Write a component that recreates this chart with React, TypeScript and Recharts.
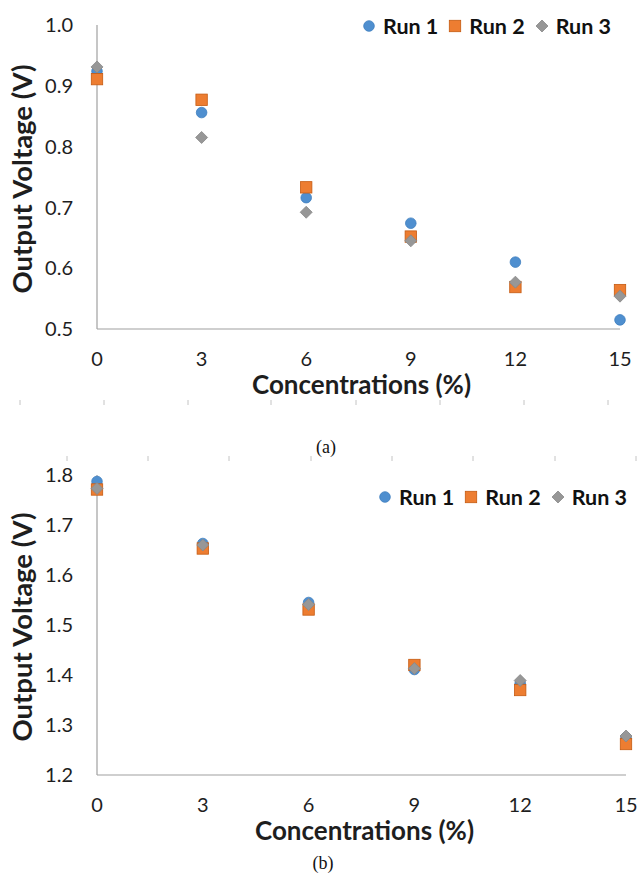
import React from 'react';
import { ScatterChart, Scatter, XAxis, YAxis, Legend } from 'recharts';

// ---------- data ----------
const concentrations = [0, 3, 6, 9, 12, 15];
const seriesNames = ['Run 1', 'Run 2', 'Run 3'];

// panel (a)
const run1A = [0.924, 0.856, 0.716, 0.674, 0.61, 0.515];
const run2A = [0.911, 0.877, 0.733, 0.652, 0.569, 0.564];
const run3A = [0.931, 0.815, 0.692, 0.645, 0.577, 0.554];
const voltTicksA = [0.5, 0.6, 0.7, 0.8, 0.9, 1.0];

// panel (b)
const run1B = [1.787, 1.663, 1.545, 1.411, 1.383, 1.275];
const run2B = [1.771, 1.653, 1.531, 1.42, 1.37, 1.262];
const run3B = [1.773, 1.66, 1.541, 1.413, 1.389, 1.278];
const voltTicksB = [1.2, 1.3, 1.4, 1.5, 1.6, 1.7, 1.8];

const concTicks = [0, 3, 6, 9, 12, 15];

// ---------- styles ----------
const FONT = 'Lato, "Open Sans", sans-serif';
const AXIS_COLOR = '#a0a0a0';
const TEXT_COLOR = '#1e1e1e';

const BLUE = '#4f8fcf';
const BLUE_EDGE = '#3f7fbf';
const ORANGE = '#ed7d31';
const ORANGE_EDGE = '#c55a11';
const GRAY = '#979797';
const GRAY_EDGE = '#888888';

const toPoints = (ys: number[]) => concentrations.map((x, i) => ({ x, y: ys[i] }));

const CircleMark = (p: any) => (
  <circle cx={p.cx} cy={p.cy} r={5.3} fill={BLUE} stroke={BLUE_EDGE} strokeWidth={0.8} />
);
const SquareMark = (p: any) => (
  <rect x={p.cx - 5.7} y={p.cy - 5.7} width={11.4} height={11.4} fill={ORANGE} stroke={ORANGE_EDGE} strokeWidth={0.8} />
);
const DiamondMark = (p: any) => (
  <path
    d={`M${p.cx},${p.cy - 6} L${p.cx + 6},${p.cy} L${p.cx},${p.cy + 6} L${p.cx - 6},${p.cy} Z`}
    fill={GRAY}
    stroke={GRAY_EDGE}
    strokeWidth={0.8}
  />
);
const markers = [CircleMark, SquareMark, DiamondMark];

const LegendIcon = ({ idx }: { idx: number }) => {
  const M = markers[idx];
  return (
    <svg width={14} height={14} style={{ display: 'block' }}>
      <M cx={7} cy={7} />
    </svg>
  );
};

const LegendRow = () => (
  <div style={{ display: 'flex', alignItems: 'center', fontFamily: FONT, fontWeight: 700, fontSize: 21.5, color: '#111', lineHeight: '24px', whiteSpace: 'nowrap' }}>
    {seriesNames.map((n, i) => (
      <div key={n} style={{ display: 'flex', alignItems: 'center', marginRight: 10 }}>
        <LegendIcon idx={i} />
        <span style={{ marginLeft: 7 }}>{n}</span>
      </div>
    ))}
  </div>
);

const XTitle = (baselineOffset: number) => (props: any) => {
  const vb = props.viewBox;
  return (
    <text
      x={vb.x + vb.width / 2 + 3}
      y={vb.y + baselineOffset}
      textAnchor="middle"
      fontFamily={FONT}
      fontWeight={700}
      fontSize={26}
      fill={TEXT_COLOR}
    >
      Concentrations (%)
    </text>
  );
};

const YTitle = (props: any) => {
  const vb = props.viewBox;
  const cx = 32;
  const cy = vb.y + vb.height / 2 + 2;
  return (
    <text
      x={cx}
      y={cy}
      transform={`rotate(-90, ${cx}, ${cy})`}
      textAnchor="middle"
      fontFamily={FONT}
      fontWeight={700}
      fontSize={27.5}
      fill={TEXT_COLOR}
    >
      Output Voltage (V)
    </text>
  );
};

type PanelProps = {
  width: number;
  height: number;
  margin: { top: number; right: number; left: number; bottom: number };
  runs: number[][];
  yTicks: number[];
  xTickMargin: number;
  xTitleOffset: number;
  legendPos: { left: number; top: number };
};

const Panel = ({ width, height, margin, runs, yTicks, xTickMargin, xTitleOffset, legendPos }: PanelProps) => (
  <ScatterChart width={width} height={height} margin={margin}>
    <XAxis
      type="number"
      dataKey="x"
      domain={[concTicks[0], concTicks[concTicks.length - 1]]}
      ticks={concTicks}
      interval={0}
      height={30}
      tickSize={0}
      tickMargin={xTickMargin}
      axisLine={{ stroke: AXIS_COLOR, strokeWidth: 1.2 }}
      tickLine={false}
      tick={{ fontFamily: FONT, fontSize: 20, fill: TEXT_COLOR }}
      label={{ content: XTitle(xTitleOffset) } as any}
    />
    <YAxis
      type="number"
      dataKey="y"
      domain={[yTicks[0], yTicks[yTicks.length - 1]]}
      ticks={yTicks}
      interval={0}
      width={97}
      tickSize={0}
      tickMargin={24}
      axisLine={{ stroke: AXIS_COLOR, strokeWidth: 1.2 }}
      tickLine={false}
      tickFormatter={(v: number) => v.toFixed(1)}
      tick={{ fontFamily: FONT, fontSize: 20, fill: TEXT_COLOR }}
      label={{ content: YTitle } as any}
    />
    <Legend
      layout="vertical"
      align="center"
      verticalAlign="middle"
      content={() => <LegendRow />}
      wrapperStyle={{ left: legendPos.left, top: legendPos.top, width: 'auto', height: 'auto' }}
    />
    {runs.map((ys, i) => (
      <Scatter
        key={seriesNames[i]}
        name={seriesNames[i]}
        data={toPoints(ys)}
        shape={markers[i]}
        isAnimationActive={false}
      />
    ))}
  </ScatterChart>
);

const Caption = ({ text, x, y }: { text: string; x: number; y: number }) => (
  <div
    style={{
      position: 'absolute',
      left: x - 30,
      width: 60,
      top: y,
      textAlign: 'center',
      fontFamily: '"Liberation Serif", "Times New Roman", serif',
      fontSize: 18,
      color: '#111',
      lineHeight: '20px',
    }}
  >
    {text}
  </div>
);

// faint ruler marks left from the source document layout
const rulerRowA = [20, 104, 188, 271, 356, 440, 524, 608];
const rulerRowB = [67, 148, 229, 311, 392, 473, 555, 636];

const Ruler = () => (
  <svg width={640} height={876} style={{ position: 'absolute', left: 0, top: 0, pointerEvents: 'none' }}>
    {rulerRowA.map((x) => (
      <line key={'a' + x} x1={x} x2={x} y1={400} y2={405} stroke="#c4c4c4" strokeWidth={1} />
    ))}
    {rulerRowB.map((x) => (
      <line key={'b' + x} x1={x} x2={x} y1={456} y2={461} stroke="#c4c4c4" strokeWidth={1} />
    ))}
  </svg>
);

export default function App() {
  return (
    <div style={{ position: 'absolute', left: 0, top: 0, width: 640, height: 876, background: '#fff', overflow: 'hidden' }}>
      <Ruler />
      <div style={{ position: 'absolute', left: 0, top: 0 }}>
        <Panel
          width={640}
          height={420}
          margin={{ top: 25, right: 20, left: 0, bottom: 61 }}
          runs={[run1A, run2A, run3A]}
          yTicks={voltTicksA}
          xTickMargin={23}
          xTitleOffset={65}
          legendPos={{ left: 362, top: 14 }}
        />
      </div>
      <Caption text="(a)" x={326} y={437} />
      <div style={{ position: 'absolute', left: 0, top: 440 }}>
        <Panel
          width={640}
          height={436}
          margin={{ top: 35, right: 14, left: 0, bottom: 71 }}
          runs={[run1B, run2B, run3B]}
          yTicks={voltTicksB}
          xTickMargin={23}
          xTitleOffset={65}
          legendPos={{ left: 378, top: 45 }}
        />
      </div>
      <Caption text="(b)" x={323} y={853} />
    </div>
  );
}
